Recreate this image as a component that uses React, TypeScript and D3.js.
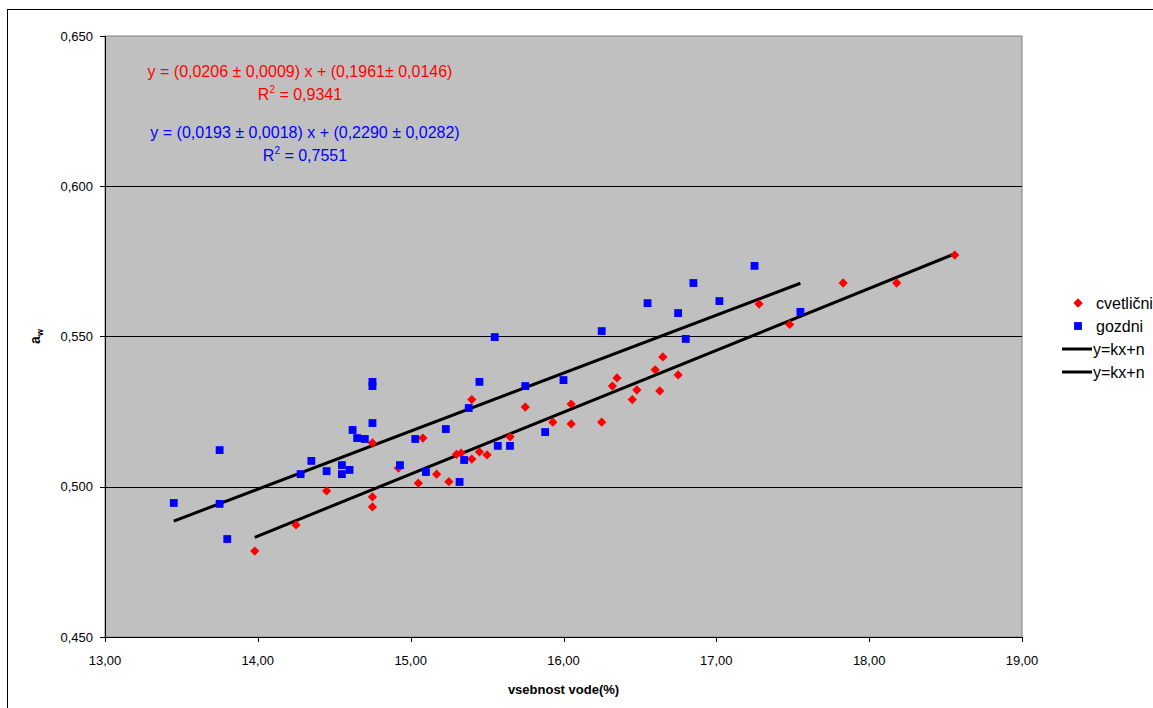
import React from "react";
import * as d3 from "d3";

const cvetlicniX = [13.98, 14.25, 14.45, 14.75, 14.75, 14.75, 14.92, 15.05, 15.08, 15.17, 15.25, 15.30, 15.33, 15.40, 15.40, 15.45, 15.50, 15.65, 15.75, 15.93, 16.05, 16.05, 16.25, 16.32, 16.35, 16.45, 16.48, 16.60, 16.63, 16.65, 16.75, 17.28, 17.48, 17.83, 18.18, 18.56];
const cvetlicniY = [0.4786, 0.4873, 0.4986, 0.5146, 0.4966, 0.4933, 0.5062, 0.5012, 0.5162, 0.5042, 0.5017, 0.5108, 0.5112, 0.5290, 0.5092, 0.5116, 0.5106, 0.5166, 0.5265, 0.5215, 0.5275, 0.5209, 0.5215, 0.5335, 0.5362, 0.5290, 0.5322, 0.5389, 0.5319, 0.5432, 0.5372, 0.5608, 0.5540, 0.5678, 0.5678, 0.5771];

const gozdniX = [13.45, 13.75, 13.75, 13.80, 14.28, 14.35, 14.45, 14.55, 14.55, 14.60, 14.62, 14.65, 14.70, 14.75, 14.75, 14.75, 14.93, 15.03, 15.10, 15.23, 15.32, 15.35, 15.38, 15.45, 15.55, 15.57, 15.65, 15.75, 15.88, 16.00, 16.25, 16.55, 16.75, 16.80, 16.85, 17.02, 17.25, 17.55];
const gozdniY = [0.4946, 0.5122, 0.4943, 0.4826, 0.5042, 0.5086, 0.5052, 0.5072, 0.5042, 0.5056, 0.5189, 0.5162, 0.5159, 0.5212, 0.5349, 0.5335, 0.5072, 0.5159, 0.5049, 0.5192, 0.5016, 0.5089, 0.5262, 0.5349, 0.5498, 0.5136, 0.5136, 0.5335, 0.5182, 0.5355, 0.5518, 0.5611, 0.5578, 0.5492, 0.5678, 0.5618, 0.5735, 0.5582];

// fitted lines (k, n) as given in the chart annotations
const fitCvetlicni = { k: 0.0206, n: 0.1952 };
const fitGozdni = { k: 0.0193, n: 0.229 };

const xTicks = [13, 14, 15, 16, 17, 18, 19];
const yTicks = [0.45, 0.5, 0.55, 0.6, 0.65];
const eqTexts = [
  { text: "y = (0,0206 ± 0,0009) x + (0,1961± 0,0146)", r2: "0,9341", color: "#FF0000" },
  { text: "y = (0,0193 ± 0,0018) x + (0,2290 ± 0,0282)", r2: "0,7551", color: "#0000FF" },
];
const legendItems = ["cvetlični", "gozdni", "y=kx+n", "y=kx+n"];

const W = 1153, H = 708;
const L = 105, R = 1022, T = 36, B = 637;
const FONT = "'Liberation Sans', Arial, sans-serif";

export default function App() {
  const x = d3.scaleLinear().domain([13, 19]).range([L, R]);
  const y = d3.scaleLinear().domain([0.45, 0.65]).range([B, T]);
  const fmt = (v: number, d: number) => v.toFixed(d).replace(".", ",");
  const diamond = d3.symbol().type(d3.symbolDiamond2).size(55)()!;
  const square = d3.symbol().type(d3.symbolSquare2).size(78)()!;

  const line = (fit: { k: number; n: number }, xs: number[]) => {
    const x0 = d3.min(xs)!, x1 = d3.max(xs)!;
    return d3.line<number>().x((v) => x(v)).y((v) => y(fit.k * v + fit.n))([x0, x1])!;
  };

  return (
    <svg width={W} height={H} style={{ position: "absolute", left: 0, top: 0 }} fontFamily={FONT}>
      <rect x={0} y={0} width={W} height={H} fill="#fff" />
      <rect x={7.5} y={9.5} width={W + 10} height={H + 10} fill="none" stroke="#000" strokeWidth={1} />
      <rect x={L} y={T} width={R - L} height={B - T} fill="#C0C0C0" stroke="#808080" strokeWidth={1} />
      {yTicks.slice(1, -1).map((t) => (
        <line key={t} x1={L} x2={R} y1={Math.round(y(t)) + 0.5} y2={Math.round(y(t)) + 0.5} stroke="#000" strokeWidth={1} />
      ))}
      {/* axes */}
      <line x1={L + 0.5} x2={L + 0.5} y1={T} y2={B} stroke="#000" />
      <line x1={L} x2={R} y1={B + 0.5} y2={B + 0.5} stroke="#000" />
      {yTicks.map((t) => (
        <g key={t}>
          <line x1={L - 5} x2={L} y1={Math.round(y(t)) + 0.5} y2={Math.round(y(t)) + 0.5} stroke="#000" />
          <text x={L - 12} y={y(t)} dy="0.35em" textAnchor="end" fontSize={13}>{fmt(t, 3)}</text>
        </g>
      ))}
      {xTicks.map((t) => (
        <g key={t}>
          <line x1={Math.round(x(t)) + 0.5} x2={Math.round(x(t)) + 0.5} y1={B} y2={B + 5} stroke="#000" />
          <text x={x(t)} y={665} textAnchor="middle" fontSize={13}>{fmt(t, 2)}</text>
        </g>
      ))}
      <text x={(L + R) / 2} y={694} textAnchor="middle" fontSize={13} fontWeight="bold">vsebnost vode(%)</text>
      <text transform={`translate(40,${y(0.55)}) rotate(-90)`} textAnchor="middle" fontSize={14} fontWeight="bold">
        a<tspan fontSize={9} dy={3}>w</tspan>
      </text>

      {/* trend lines */}
      <path d={line(fitGozdni, gozdniX)} stroke="#000" strokeWidth={3} fill="none" />
      <path d={line(fitCvetlicni, cvetlicniX)} stroke="#000" strokeWidth={3} fill="none" />

      {/* points */}
      {cvetlicniX.map((v, i) => (
        <path key={"c" + i} d={diamond} transform={`translate(${x(v)},${y(cvetlicniY[i])})`} fill="#FF0000" />
      ))}
      {gozdniX.map((v, i) => (
        <path key={"g" + i} d={square} transform={`translate(${x(v)},${y(gozdniY[i])})`} fill="#0000FF" />
      ))}

      {/* equations */}
      {eqTexts.map((e, i) => (
        <g key={i} fill={e.color} fontSize={16}>
          <text x={i === 0 ? 300 : 305} y={77 + i * 61} textAnchor="middle">{e.text}</text>
          <text x={i === 0 ? 300 : 305} y={100 + i * 61} textAnchor="middle">
            R<tspan fontSize={10} dy={-7}>2</tspan><tspan dy={7}> = {e.r2}</tspan>
          </text>
        </g>
      ))}

      {/* legend */}
      <g fontSize={16}>
        {legendItems.map((lab, i) => {
          const cy = 303 + i * 23;
          return (
            <g key={i}>
              {i === 0 && <path d={diamond} transform={`translate(1078,${cy})`} fill="#FF0000" />}
              {i === 1 && <path d={square} transform={`translate(1078,${cy})`} fill="#0000FF" />}
              {i >= 2 && <line x1={1062} x2={1092} y1={cy} y2={cy} stroke="#000" strokeWidth={3} />}
              <text x={i >= 2 ? 1093 : 1096} y={cy} dy="0.35em">{lab}</text>
            </g>
          );
        })}
      </g>
    </svg>
  );
}
